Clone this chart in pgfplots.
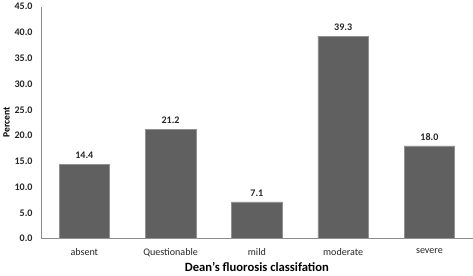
\documentclass[border=0pt]{standalone}
\usepackage{pgfplots}
\pgfplotsset{compat=1.18}
\usepackage{fontspec}
\setmainfont{Carlito}
\definecolor{barc}{HTML}{606060}
\definecolor{axc}{HTML}{8C8C8C}
\begin{document}
\begin{tikzpicture}
\begin{axis}[
  scale only axis,
  width=428pt, height=230pt,
  ymin=0, ymax=45,
  xmin=-0.5, xmax=4.5,
  xtick=data,
  xticklabels={absent,Questionable,mild,moderate,severe},
  ytick={0,5,...,45},
  /pgf/number format/assume math mode=true,
  yticklabel={\pgfmathprintnumber[fixed,fixed zerofill,precision=1]{\tick}},
  yticklabel style={font=\fontsize{10}{12}\selectfont\bfseries, text=black!85, xshift=-5pt},
  xticklabel style={font=\fontsize{10}{12}\selectfont, text=black!85, yshift=-6pt},
  major tick length=0pt,
  axis x line*=bottom,
  axis y line*=left,
  axis line style={axc, line width=0.8pt},
  separate axis lines,
  ylabel={Percent},
  ylabel style={font=\fontsize{9.5}{11}\selectfont\bfseries, yshift=-2pt},
  xlabel={Dean's fluorosis classifation},
  xlabel style={font=\fontsize{12.5}{14}\selectfont\bfseries, yshift=1pt},
  ybar, bar width=50pt,
  nodes near coords={\pgfmathprintnumber[fixed,fixed zerofill,precision=1]{\pgfplotspointmeta}},
  nodes near coords style={font=\fontsize{10}{12}\selectfont\bfseries, text=black!85, yshift=2pt},
]
\addplot[fill=barc, draw=barc!70!white] coordinates {(0,14.4) (1,21.2) (2,7.1) (3,39.3) (4,18.0)};
\end{axis}
\end{tikzpicture}
\end{document}
